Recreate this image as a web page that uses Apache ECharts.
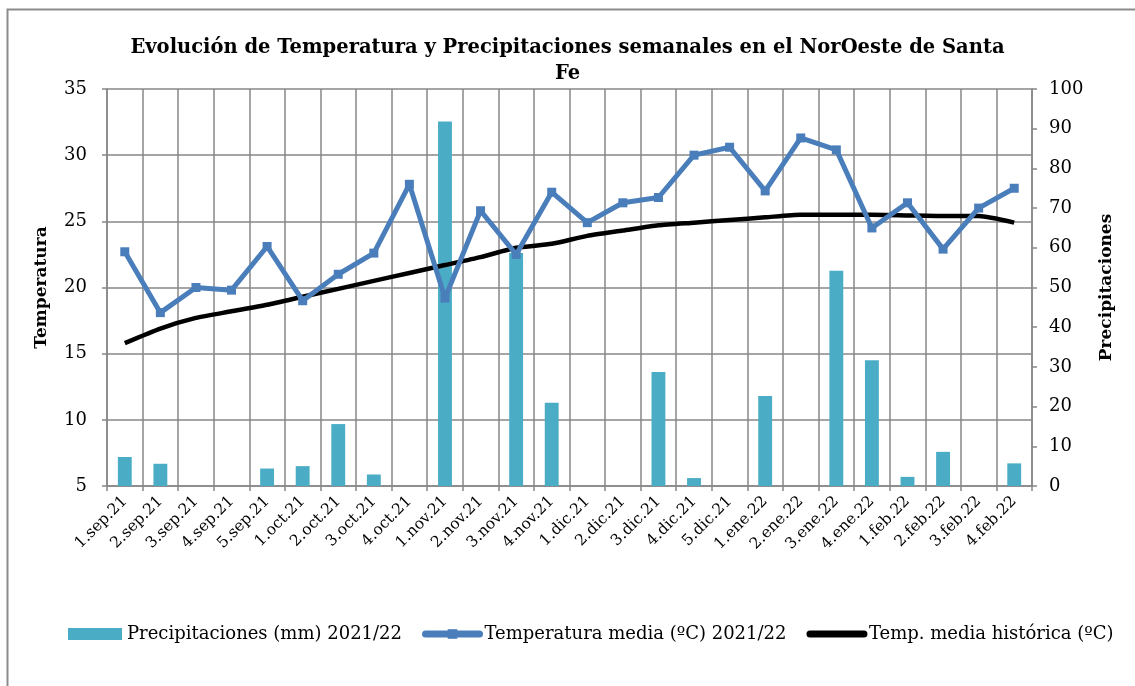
<!DOCTYPE html>
<html>
<head>
<meta charset="utf-8">
<script src="https://cdn.jsdelivr.net/npm/echarts@6/dist/echarts.min.js"></script>
<style>
  html, body { margin: 0; padding: 0; background: #fff; overflow: hidden; }
  #main { width: 1135px; height: 686px; }
</style>
</head>
<body>
<div id="main"></div>
<script>
const categories = ['1.sep.21', '2.sep.21', '3.sep.21', '4.sep.21', '5.sep.21',
    '1.oct.21', '2.oct.21', '3.oct.21', '4.oct.21',
    '1.nov.21', '2.nov.21', '3.nov.21', '4.nov.21',
    '1.dic.21', '2.dic.21', '3.dic.21', '4.dic.21', '5.dic.21',
    '1.ene.22', '2.ene.22', '3.ene.22', '4.ene.22',
    '1.feb.22', '2.feb.22', '3.feb.22', '4.feb.22']

// precipitaciones semanales (mm)
const precip = [7.3, 5.6, 0, 0, 4.4, 5.0, 15.6, 2.9, 0, 91.8, 0, 58.7, 21.0,
    0, 0, 28.7, 2.0, 0, 22.7, 0, 54.2, 31.7, 2.3, 8.6, 0, 5.7]

// temperatura media 2021/22 (ºC)
const tempMedia = [22.7, 18.1, 20.0, 19.8, 23.1, 19.0, 21.0, 22.6, 27.8, 19.2, 25.8, 22.5, 27.2,
    24.9, 26.4, 26.8, 30.0, 30.6, 27.3, 31.3, 30.4, 24.5, 26.4, 22.9, 26.0, 27.5]

// temperatura media historica (ºC)
const tempHist = [15.8, 16.9, 17.7, 18.2, 18.7, 19.3, 19.9, 20.5, 21.1, 21.7, 22.3, 23.0, 23.3,
    23.9, 24.3, 24.7, 24.9, 25.1, 25.3, 25.5, 25.5, 25.5, 25.45, 25.4, 25.4, 24.9]

const font = 'DejaVu Serif'
const gridColor = '#878787'

const myChart = echarts.init(document.getElementById('main'))

const option = {
    animation: false,
    backgroundColor: '#fff',
    textStyle: { fontFamily: font, color: '#000' },
    graphic: [{
        type: 'rect',
        shape: { x: 7.5, y: 9.5, width: 1300, height: 900 },
        style: { fill: 'none', stroke: '#8c8c8c', lineWidth: 2 },
        silent: true
    }],
    title: {
        text: 'Evolución de Temperatura y Precipitaciones semanales en el NorOeste de Santa\nFe',
        left: 'center',
        top: 30,
        textStyle: { fontFamily: font, fontWeight: 'bold', fontSize: 19.5, lineHeight: 26, color: '#000' }
    },
    legend: {
        top: 620,
        left: 63,
        itemGap: 20,
        itemWidth: 54,
        itemHeight: 12,
        textStyle: { fontFamily: font, fontSize: 18, color: '#000' },
        data: [
            { name: 'Precipitaciones (mm) 2021/22', icon: 'rect' },
            {
                name: 'Temperatura media (ºC) 2021/22',
                lineStyle: { width: 7, cap: 'round' }
            },
            {
                name: 'Temp. media histórica (ºC)',
                lineStyle: { width: 7, cap: 'round' },
                itemStyle: { color: 'rgba(0,0,0,0)', borderWidth: 0 }
            }
        ]
    },
    grid: { left: 107, right: 103, top: 89, bottom: 200 },
    xAxis: {
        type: 'category',
        data: categories,
        boundaryGap: true,
        axisLine: { lineStyle: { color: gridColor, width: 1.5 } },
        axisTick: { show: true, length: 5, lineStyle: { color: gridColor, width: 1.5 } },
        splitLine: { show: true, lineStyle: { color: gridColor, width: 1.5 } },
        axisLabel: { rotate: 45, margin: 13, fontSize: 15.5, fontFamily: font, color: '#000', interval: 0 }
    },
    yAxis: [{
        type: 'value',
        min: 5,
        max: 35,
        interval: 5,
        name: 'Temperatura',
        nameLocation: 'middle',
        nameGap: 57,
        nameTextStyle: { fontFamily: font, fontWeight: 'bold', fontSize: 17, color: '#000' },
        axisLine: { show: true, lineStyle: { color: gridColor, width: 1.5 } },
        axisTick: { show: true, length: 5, lineStyle: { color: gridColor, width: 1.5 } },
        splitLine: { show: true, lineStyle: { color: gridColor, width: 1.5 } },
        axisLabel: { margin: 20, fontSize: 18, fontFamily: font, color: '#000' }
    }, {
        type: 'value',
        min: 0,
        max: 100,
        interval: 10,
        name: 'Precipitaciones',
        nameLocation: 'middle',
        nameGap: 66,
        nameRotate: 90,
        nameTextStyle: { fontFamily: font, fontWeight: 'bold', fontSize: 17, color: '#000' },
        axisLine: { show: true, lineStyle: { color: gridColor, width: 1.5 } },
        axisTick: { show: true, length: 5, lineStyle: { color: gridColor, width: 1.5 } },
        splitLine: { show: false },
        axisLabel: { margin: 17, fontSize: 18, fontFamily: font, color: '#000' }
    }],
    series: [{
        name: 'Precipitaciones (mm) 2021/22',
        type: 'bar',
        yAxisIndex: 1,
        data: precip,
        barWidth: '39%',
        itemStyle: { color: '#4BACC6' },
        z: 1
    }, {
        name: 'Temperatura media (ºC) 2021/22',
        type: 'line',
        yAxisIndex: 0,
        data: tempMedia,
        symbol: 'rect',
        symbolSize: 9,
        lineStyle: { color: '#4A7EBB', width: 5 },
        itemStyle: { color: '#4A7EBB' },
        z: 3
    }, {
        name: 'Temp. media histórica (ºC)',
        type: 'line',
        yAxisIndex: 0,
        data: tempHist,
        symbol: 'none',
        smooth: 0.2,
        lineStyle: { color: '#000', width: 4.5 },
        itemStyle: { color: '#000' },
        z: 2
    }]
}

myChart.setOption(option)
</script>
</body>
</html>
